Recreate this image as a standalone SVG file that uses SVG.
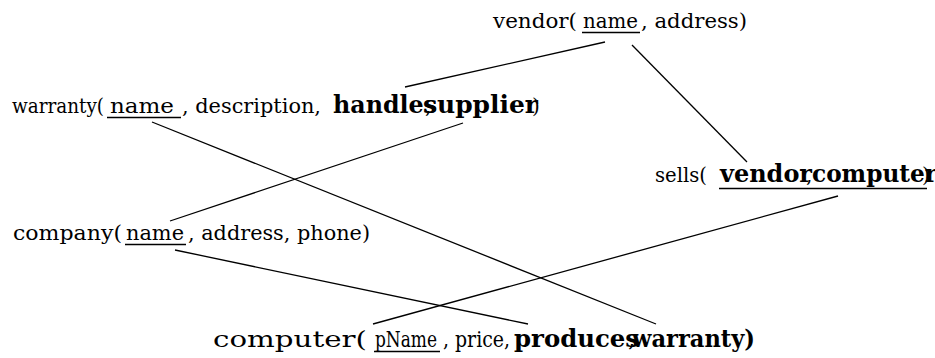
<svg xmlns="http://www.w3.org/2000/svg" width="935" height="358" viewBox="0 0 935 358">
  <style>
    text { font-family: "DejaVu Serif", "Liberation Serif", serif; fill: #000; }
    .t { font-size: 20px; }
    .tl { font-size: 23px; }
    .b { font-size: 25px; font-weight: bold; }
    .u { stroke: #000; stroke-width: 1.6; }
    .c { stroke: #000; stroke-width: 1.3; fill: none; }
  </style>
  <rect width="935" height="358" fill="#fff"/>

  <!-- relation: vendor -->
  <g id="vendor">
    <text class="t" x="493" y="28" textLength="84" lengthAdjust="spacingAndGlyphs">vendor(</text>
    <text class="t" x="583" y="28" textLength="55" lengthAdjust="spacingAndGlyphs">name</text>
    <line class="u" x1="582" y1="32.5" x2="640" y2="32.5"/>
    <text class="t" x="641" y="28" textLength="106" lengthAdjust="spacingAndGlyphs">, address)</text>
  </g>

  <!-- relation: warranty -->
  <g id="warranty">
    <text class="t" x="12" y="113" textLength="92" lengthAdjust="spacingAndGlyphs">warranty(</text>
    <text class="t" x="110" y="113" textLength="64" lengthAdjust="spacingAndGlyphs">name</text>
    <line class="u" x1="107" y1="117.5" x2="181" y2="117.5"/>
    <text class="t" x="182" y="113" textLength="139" lengthAdjust="spacingAndGlyphs">, description,</text>
    <text class="b" x="333" y="113" textLength="104" lengthAdjust="spacingAndGlyphs">handles</text>
    <text class="t" x="425" y="113">,</text>
    <text class="b" x="423" y="113" textLength="115" lengthAdjust="spacingAndGlyphs">supplier</text>
    <text class="t" x="532" y="113">)</text>
  </g>

  <!-- relation: sells -->
  <g id="sells">
    <text class="t" x="655" y="182" textLength="52" lengthAdjust="spacingAndGlyphs">sells(</text>
    <text class="b" x="720" y="182" textLength="92" lengthAdjust="spacingAndGlyphs">vendor</text>
    <text class="t" x="806" y="182">,</text>
    <text class="b" x="812" y="182" textLength="125" lengthAdjust="spacingAndGlyphs">computer</text>
    <text class="t" x="922" y="182">)</text>
    <line class="u" x1="719" y1="188.5" x2="927" y2="188.5"/>
  </g>

  <!-- relation: company -->
  <g id="company">
    <text class="t" x="13" y="240" textLength="109" lengthAdjust="spacingAndGlyphs">company(</text>
    <text class="t" x="126" y="240" textLength="58" lengthAdjust="spacingAndGlyphs">name</text>
    <line class="u" x1="125" y1="244.5" x2="186" y2="244.5"/>
    <text class="t" x="188" y="240" textLength="182" lengthAdjust="spacingAndGlyphs">, address, phone)</text>
  </g>

  <!-- relation: computer -->
  <g id="computer">
    <text class="tl" x="213" y="347" textLength="154" lengthAdjust="spacingAndGlyphs">computer(</text>
    <text class="tl" x="375" y="347" textLength="62" lengthAdjust="spacingAndGlyphs">pName</text>
    <line class="u" x1="374" y1="351.5" x2="440" y2="351.5"/>
    <text class="tl" x="443" y="347" textLength="67" lengthAdjust="spacingAndGlyphs">, price,</text>
    <text class="b" x="514" y="347" textLength="125" lengthAdjust="spacingAndGlyphs">produces</text>
    <text class="tl" x="628" y="347">,</text>
    <text class="b" x="632" y="347" textLength="123" lengthAdjust="spacingAndGlyphs">warranty)</text>
  </g>

  <!-- foreign-key connectors -->
  <g id="connectors">
    <line class="c" x1="605" y1="42" x2="405" y2="87"/>
    <line class="c" x1="632" y1="45" x2="747" y2="162"/>
    <line class="c" x1="152" y1="122" x2="656" y2="324"/>
    <line class="c" x1="463" y1="123" x2="170" y2="221"/>
    <line class="c" x1="175" y1="250" x2="528" y2="324"/>
    <line class="c" x1="838" y1="196" x2="373" y2="324"/>
  </g>
</svg>
